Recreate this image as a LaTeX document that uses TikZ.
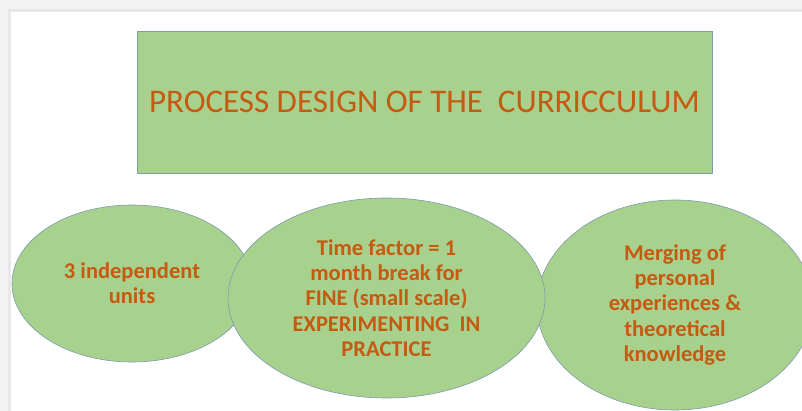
\documentclass[tikz,border=0pt]{standalone}
\usepackage{fontspec}
\setmainfont{Carlito}
\usetikzlibrary{shapes.geometric}
\definecolor{leafgreen}{HTML}{A9D18E}
\definecolor{rimblue}{HTML}{7B9BAF}
\definecolor{rust}{HTML}{C55A11}
\definecolor{framegrey}{HTML}{F3F3F3}
\definecolor{frameedge}{HTML}{E8E8E8}
\tikzset{
  titlebox/.style={draw=rimblue, line width=0.7pt, fill=leafgreen, inner sep=0pt,
    text=rust, font=\fontsize{33}{38}\selectfont},
  bubble/.style={ellipse, draw=rimblue, line width=0.6pt, fill=leafgreen, inner sep=0pt,
    text=rust, align=center, font=\bfseries\fontsize{22.5}{25.3}\selectfont},
}
\begin{document}
\begin{tikzpicture}[x=1pt,y=-1pt]
  \useasboundingbox (0,0) rectangle (802,411);
  % window frame along the top and left
  \fill[framegrey] (0,0) rectangle (802,411);
  \fill[frameedge] (8,9) rectangle (802,411);
  \fill[white] (11,12) rectangle (802,411);

  % heading box
  \node[titlebox, minimum width=575pt, minimum height=142pt] (title) at (424.5,102)
    {PROCESS DESIGN OF THE\ \ CURRICCULUM};

  % three bubbles; the middle one lies over its neighbours
  \begin{scope}
    \clip (11,12) rectangle (802,411);
    \node[bubble, minimum width=240pt, minimum height=157pt] (units) at (132,283.5)
      {3 independent\\units};
    \node[bubble, minimum width=276pt, minimum height=210pt] (merge) at (675,305)
      {Merging of\\personal\\experiences \&\\theoretical\\knowledge};
    \node[bubble, minimum width=317pt, minimum height=200pt] (time) at (386.5,298)
      {Time factor = 1\\month break for\\FINE (small scale)\\EXPERIMENTING\ \ IN\\PRACTICE};
  \end{scope}
\end{tikzpicture}
\end{document}
